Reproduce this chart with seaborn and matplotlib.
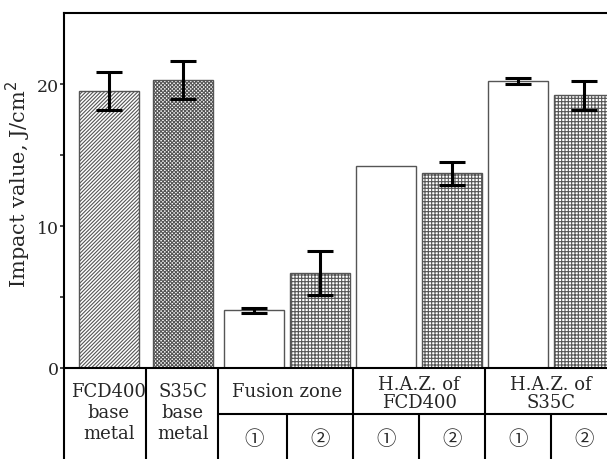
import numpy as np
import pandas as pd
import matplotlib
matplotlib.use("Agg")
import matplotlib.pyplot as plt
import matplotlib.transforms as mtransforms
import seaborn as sns

# impact values (J/cm2)
bars = ["FCD400 base", "S35C base", "Fusion 1", "Fusion 2",
        "HAZ FCD400 1", "HAZ FCD400 2", "HAZ S35C 1", "HAZ S35C 2"]
values = [19.5, 20.3, 4.05, 6.7, 14.25, 13.7, 20.2, 19.2]
errors = [1.35, 1.35, 0.2, 1.55, np.nan, 0.8, 0.2, 1.0]

groups = ["FCD400\nbase\nmetal", "S35C\nbase\nmetal", "Fusion zone",
          "H.A.Z. of\nFCD400", "H.A.Z. of\nS35C"]
sub_labels = ["①", "②"]

# layout: bar centres (slightly wider gap after the base metals)
pos = [0, 1.12, 2.2, 3.2, 4.2, 5.2, 6.2, 7.2]
hatches = ["/////////", "xxxxxxxxx", "", "+++++", "", "+++++", "", "+++++"]

sns.set_style("white")
plt.rcParams['font.family'] = ['DejaVu Serif', 'Noto Sans CJK JP']
plt.rcParams['hatch.linewidth'] = 0.8

df = pd.DataFrame({"pos": pos, "value": values, "bar": bars})

fig = plt.figure(figsize=(6.07, 4.60), dpi=100)
ax = fig.add_axes([64 / 607, 91 / 460, (625 - 64) / 607, 355 / 460])

sns.barplot(data=df, x="pos", y="value", native_scale=True, width=0.9,
            color="white", edgecolor="#555555", linewidth=1.0, ax=ax)
for p, h in zip(ax.patches, hatches):
    p.set_hatch(h)
    p.set_facecolor("white")

ax.errorbar(pos, values, yerr=errors, fmt="none", ecolor="black",
            elinewidth=2.2, capsize=9.5, capthick=2.2, zorder=5)

ax.set_xlim(-0.68, 7.82)
ax.set_ylim(0, 25)
ax.set_xticks([])
ax.set_yticks([0, 10, 20])
ax.set_yticks([5, 15], minor=True)
ax.tick_params(axis="y", which="major", direction="out", length=3, width=1.2,
               labelsize=12.5, left=True, pad=0.5)
ax.tick_params(axis="y", which="minor", direction="out", length=3, width=1.2,
               left=True)
ax.set_xlabel("")
ax.set_ylabel("Impact value, J/cm$^2$", fontsize=15)
ax.yaxis.set_label_coords(-0.055, 0.52)
for s in ["left", "top", "bottom", "right"]:
    ax.spines[s].set_linewidth(1.5)
    ax.spines[s].set_color("black")

# table under the bars
tr = mtransforms.blended_transform_factory(ax.transData, ax.transAxes)
mids = [(a + b) / 2 for a, b in zip(pos[:-1], pos[1:])] + [pos[-1] + 0.5]
mid_row = -46 / 355
bottom = -0.4
for i, x in enumerate(mids):
    top = mid_row if i in (2, 4, 6) else 0
    ax.plot([x, x], [top, bottom], color="black", lw=1.5, transform=tr,
            clip_on=False)
ax.plot([-0.68, -0.68], [0, bottom], color="black", lw=1.5, transform=tr,
        clip_on=False)
ax.plot([mids[1], 7.82], [mid_row, mid_row], color="black", lw=1.5,
        transform=tr, clip_on=False)

ax.text(pos[0], -44 / 355, groups[0], transform=tr, ha="center", va="center",
        fontsize=13, linespacing=1.2)
ax.text(pos[1], -44 / 355, groups[1], transform=tr, ha="center", va="center",
        fontsize=13, linespacing=1.2)
ax.text(mids[2], -23 / 355, groups[2], transform=tr, ha="center",
        va="center", fontsize=13)
ax.text(mids[4], -25 / 355, groups[3], transform=tr, ha="center",
        va="center", fontsize=13, linespacing=0.95)
ax.text(mids[6], -25 / 355, groups[4], transform=tr, ha="center",
        va="center", fontsize=13, linespacing=0.95)
for i in range(2, 8):
    ax.text(pos[i], -71 / 355, sub_labels[i % 2], transform=tr, ha="center",
            va="center", fontsize=14)

fig.savefig("out.png", dpi=100)
